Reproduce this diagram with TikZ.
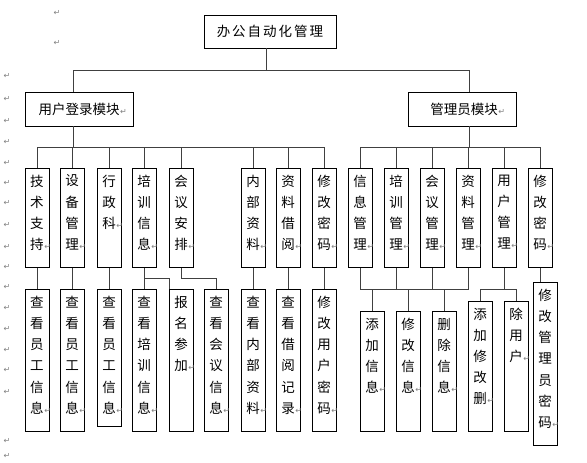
\documentclass[tikz,border=0pt]{standalone}
\usepackage{fontspec}
\setmainfont{Noto Sans CJK SC}
\newfontfamily\dejavu{DejaVu Sans}
\newcommand\pmk{\rlap{\hspace{0.5pt}{\dejavu\fontsize{8}{8}\selectfont\color{gray}↵}}}
\newcommand\vcol[2]{\parbox[c][#1][t]{24pt}{\centering\fontsize{13.5}{21.2}\selectfont\vspace*{6.5pt}#2}}
\tikzset{
  box/.style={draw=black, line width=0.8pt, inner sep=0pt, fill=white},
  hbox/.style={box, minimum width=108pt, minimum height=34pt, font=\fontsize{13.5}{14}\selectfont},
  conn/.style={draw=black!75, line width=0.9pt},
  pmark/.style={inner sep=0pt, text=gray, font=\dejavu\fontsize{8}{8}\selectfont}
}
\begin{document}
\begin{tikzpicture}[x=1pt,y=-1pt]
\useasboundingbox[fill=white] (0,0) rectangle (587,463);

% paragraph marks in the margin
\foreach \yy [count=\i] in {76,99,121,142,163,183,203,225,247,267,287,308,329,350,370,392,441,456}
  \node[pmark] (pm\i) at (7,\yy) {↵};
\node[pmark] (pt1) at (57,13) {↵};
\node[pmark] (pt2) at (57,43) {↵};

% top
\node[box, minimum width=132pt, minimum height=33pt, font=\fontsize{13.5}{14}\selectfont] (top) at (270,31.5)
  {办\hspace{2pt}公\hspace{2pt}自\hspace{2pt}动\hspace{2pt}化\hspace{2pt}管\hspace{2pt}理};
\node[hbox] (m1) at (79,109) {用户登录模块\pmk\hspace{7pt}};
\node[hbox] (m2) at (462,109) {\hspace{4pt}管理员模块\pmk\hspace{4pt}};

% level 2 (top 168, height 99)
\foreach \nm/\xx/\tx in {a1/37/{技\\术\\支\\持\pmk}, a2/72/{设\\备\\管\\理\pmk}, a3/109/{行\\政\\科\pmk},
  a4/144/{培\\训\\信\\息\pmk}, a5/181/{会\\议\\安\\排\pmk}, a6/253/{内\\部\\资\\料\pmk},
  a7/288/{资\\料\\借\\阅\pmk}, a8/324/{修\\改\\密\\码\pmk},
  b1/360/{信\\息\\管\\理\pmk}, b2/396/{培\\训\\管\\理\pmk}, b3/432/{会\\议\\管\\理\pmk},
  b4/468/{资\\料\\管\\理\pmk}, b5/504/{用\\户\\管\\理\pmk}, b6/540/{修\\改\\密\\码\pmk}}
  \node[box, anchor=north] (\nm) at (\xx,168) {\vcol{99pt}{\tx}};

% level 3
\foreach \nm/\xx/\yt/\hh/\tx in {
  c1/37/289/142/{查\\看\\员\\工\\信\\息\pmk},
  c2/72/289/142/{查\\看\\员\\工\\信\\息\pmk},
  c3/109/289/137/{查\\看\\员\\工\\信\\息\pmk},
  c4/144/289/142/{查\\看\\培\\训\\信\\息\pmk},
  c5/181/289/142/{报\\名\\参\\加\pmk},
  c6/216/289/142/{查\\看\\会\\议\\信\\息\pmk},
  c7/253/289/142/{查\\看\\内\\部\\资\\料\pmk},
  c8/288/289/142/{查\\看\\借\\阅\\记\\录\pmk},
  c9/324/289/142/{修\\改\\用\\户\\密\\码\pmk},
  d1/372/311/120/{添\\加\\信\\息\pmk},
  d2/408/311/120/{修\\改\\信\\息\pmk},
  d3/444/311/120/{删\\除\\信\\息\pmk},
  d4/480/301/130/{添\\加\\修\\改\\删\pmk},
  d5/516/301/130/{除\\用\\户\pmk},
  d6/545/282/163/{修\\改\\管\\理\\员\\密\\码\pmk}}
  \node[box, anchor=north] (\nm) at (\xx,\yt) {\vcol{\hh pt}{\tx}};

% connectors: top to modules
\draw[conn] ([xshift=-4pt]top.south) -- ++(0,22) coordinate (j0);
\draw[conn] ([xshift=-6pt]m1.north) |- (j0);
\draw[conn] ([xshift=7pt]m2.north) |- (j0);

% left module bus
\draw[conn] ([xshift=-6pt]m1.south) -- ++(0,21) coordinate (bus1);
\draw[conn] (a1.north) |- (bus1) -| (a8.north);
\foreach \nm in {a2,a3,a4,a5,a6,a7}
  \draw[conn] (\nm.north) -- (\nm.north |- bus1);

% right module bus
\draw[conn] ([xshift=7pt]m2.south) -- ++(0,21) coordinate (bus2);
\draw[conn] (b1.north) |- (bus2) -| (b6.north);
\foreach \nm in {b2,b3,b4,b5}
  \draw[conn] (\nm.north) -- (\nm.north |- bus2);

% level 2 to level 3, left
\foreach \p/\c in {a1/c1,a2/c2,a3/c3,a4/c4,a6/c7,a7/c8,a8/c9}
  \draw[conn] (\p.south) -- (\c.north);
\draw[conn] (a4.south) ++(0,11) coordinate (k4) -| ([xshift=1pt]c5.north west);
\draw[conn] (a5.south) -- ++(0,11) coordinate (k5) -| (c6.north);

% level 2 to level 3, right
\draw[conn] (b1.south) -- ++(0,22) coordinate (r1) -| (b4.south);
\foreach \nm in {b2,b3}
  \draw[conn] (\nm.south) -- (\nm.south |- r1);
\foreach \nm in {d1,d2,d3}
  \draw[conn] (\nm.north) -- (\nm.north |- r1);
\draw[conn] (b5.south) -- ++(0,22) coordinate (r2);
\draw[conn] (d4.north) |- (r2) -| (d5.north);
\draw[conn] (b6.south) -- (b6.south |- d6.north);
\end{tikzpicture}
\end{document}
